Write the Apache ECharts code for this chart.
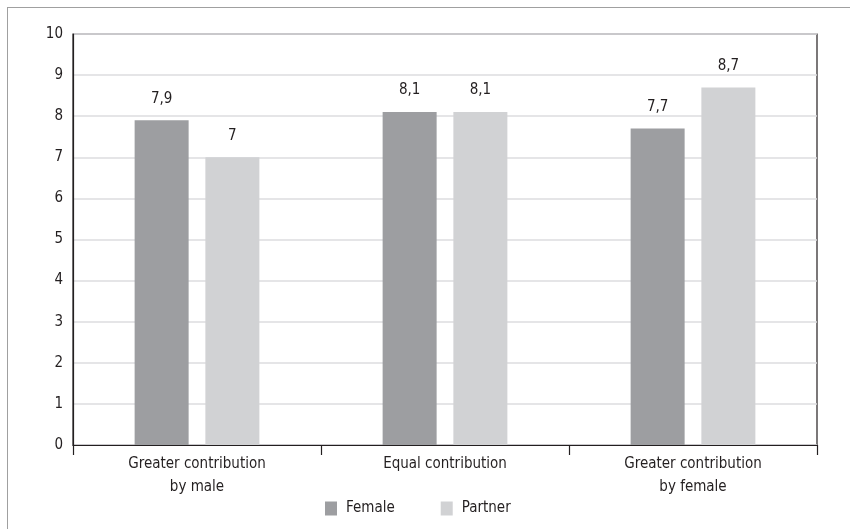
<!DOCTYPE html>
<html>
<head>
<meta charset="utf-8">
<script src="https://cdn.jsdelivr.net/npm/echarts@6/dist/echarts.min.js"></script>
<style>
  html, body { margin: 0; padding: 0; background: #fff; }
  #frame { position: absolute; left: 7px; top: 7px; right: 0; bottom: 0; border-left: 1px solid #a0a0a0; border-top: 1px solid #a0a0a0; }
  #chart { position: absolute; left: 0; top: 0; width: 850px; height: 529px; }
</style>
</head>
<body>
<div id="frame"></div>
<div id="chart"></div>
<script>
const categories = ['Greater contribution\nby male', 'Equal contribution', 'Greater contribution\nby female'];
const femaleValues = [7.9, 8.1, 7.7];
const partnerValues = [7.0, 8.1, 8.7];
const seriesNames = ['Female', 'Partner'];
const yTicks = { min: 0, max: 10, interval: 1 };

const FONT = '"Liberation Sans Narrow", "DejaVu Sans Condensed", sans-serif';
const TEXT = '#231f20';

const fmt = v => String(v).replace('.', ',');

const chart = echarts.init(document.getElementById('chart'), null, { renderer: 'canvas' });

const labelCfg = {
  show: true,
  position: 'top',
  distance: 14,
  color: TEXT,
  fontFamily: FONT,
  fontSize: 15,
  formatter: p => fmt(p.value)
};

chart.setOption({
  animation: false,
  textStyle: { fontFamily: FONT, color: TEXT },
  grid: {
    left: 73, right: 33, top: 34, bottom: 84,
    show: true, borderColor: '#231f20', borderWidth: 1.2, backgroundColor: 'transparent'
  },
  legend: {
    data: seriesNames,
    bottom: 8,
    left: 320,
    icon: 'rect',
    itemWidth: 12,
    itemHeight: 14,
    itemGap: 46,
    textStyle: { fontFamily: FONT, fontSize: 15, color: TEXT, padding: [0, 0, 0, 4] }
  },
  xAxis: {
    type: 'category',
    data: categories,
    axisLine: { lineStyle: { color: '#231f20', width: 1.2 } },
    axisTick: { show: true, length: 10, alignWithLabel: false, lineStyle: { color: '#231f20', width: 1.2 } },
    axisLabel: { color: TEXT, fontFamily: FONT, fontSize: 15, lineHeight: 23, margin: 8, interval: 0 }
  },
  yAxis: {
    type: 'value',
    min: yTicks.min, max: yTicks.max, interval: yTicks.interval,
    axisLine: { show: true, lineStyle: { color: '#231f20', width: 1.2 } },
    axisTick: { show: false },
    axisLabel: { color: TEXT, fontFamily: FONT, fontSize: 15, margin: 10 },
    splitLine: { lineStyle: { color: '#dcdddf', width: 1.5 } }
  },
  series: [
    {
      name: seriesNames[0], type: 'bar', data: femaleValues,
      barWidth: 54, barGap: '31%',
      itemStyle: { color: '#9d9ea1' },
      label: labelCfg
    },
    {
      name: seriesNames[1], type: 'bar', data: partnerValues,
      barWidth: 54,
      itemStyle: { color: '#d1d2d4' },
      label: labelCfg
    }
  ]
});
</script>
</body>
</html>
